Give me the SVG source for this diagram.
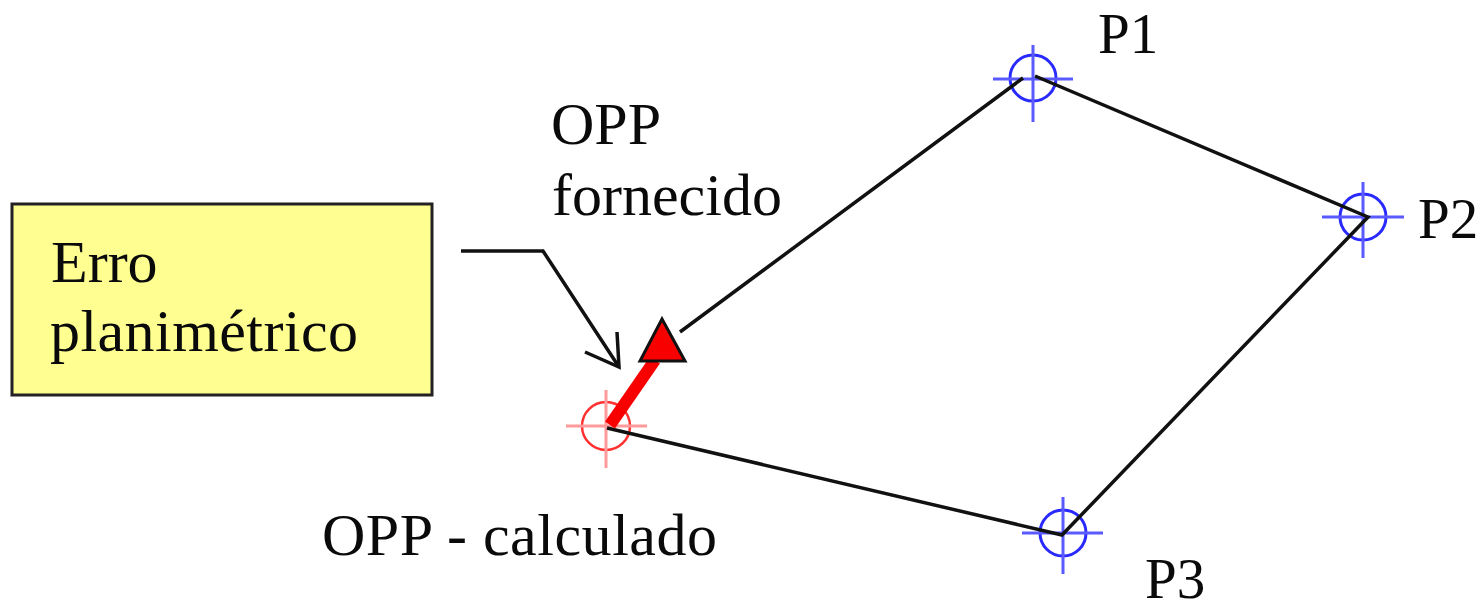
<svg xmlns="http://www.w3.org/2000/svg" width="1483" height="601" viewBox="0 0 1483 601">
<style>
text{font-family:"Liberation Serif","Times New Roman",serif;font-size:60px;fill:#0a0a0a}
text.pt{font-size:57px}
.l{fill:none;stroke:#111;stroke-width:3.5}
.b{fill:none;stroke:#2a2aff;stroke-width:3}
.bx{fill:none;stroke:#5a5aff;stroke-width:3}
.r{fill:none;stroke:#ff3030;stroke-width:2.5}
.rx{fill:none;stroke:#ff9a9a;stroke-width:3}
</style>
<rect width="1483" height="601" fill="#fff"/>
<g id="p1"><circle class="b" cx="1033" cy="78" r="23"/><path class="bx" d="M993 79H1073M1033 45V122"/><text class="pt" x="1098" y="53">P1</text></g>
<g id="p2"><circle class="b" cx="1363" cy="217" r="23"/><path class="bx" d="M1322 217H1404M1363 182V258"/><text class="pt" x="1418" y="238">P2</text></g>
<g id="p3"><circle class="b" cx="1063" cy="533" r="23"/><path class="bx" d="M1022 533H1103M1063 497V574"/><text class="pt" x="1145" y="598">P3</text></g>
<g id="opp-calc"><circle class="r" cx="606" cy="426" r="24"/><path class="rx" d="M566 426H647M606 390V468"/><text x="322" y="555" textLength="395">OPP - calculado</text></g>
<g id="connectors">
<path class="l" d="M680 332L1023 78M1035 76L1368 217L1062 535L607 428"/>
<path class="l" d="M461 251H543L619 367"/>
<path class="l" d="M585 352L619 367L617 332"/>
<path d="M610 425L655 360" fill="none" stroke="#f80000" stroke-width="12"/>
</g>
<g id="box"><rect x="12" y="204" width="420" height="191" fill="#ffff91" stroke="#222" stroke-width="3"/><text x="51" y="282">Erro</text><text x="50" y="351" textLength="308">planimétrico</text></g>
<g id="opp-forn"><polygon points="662,319 640,361 685,361" fill="#f80000" stroke="#111" stroke-width="3"/><text x="551" y="144">OPP</text><text x="552" y="215">fornecido</text></g>
</svg>
